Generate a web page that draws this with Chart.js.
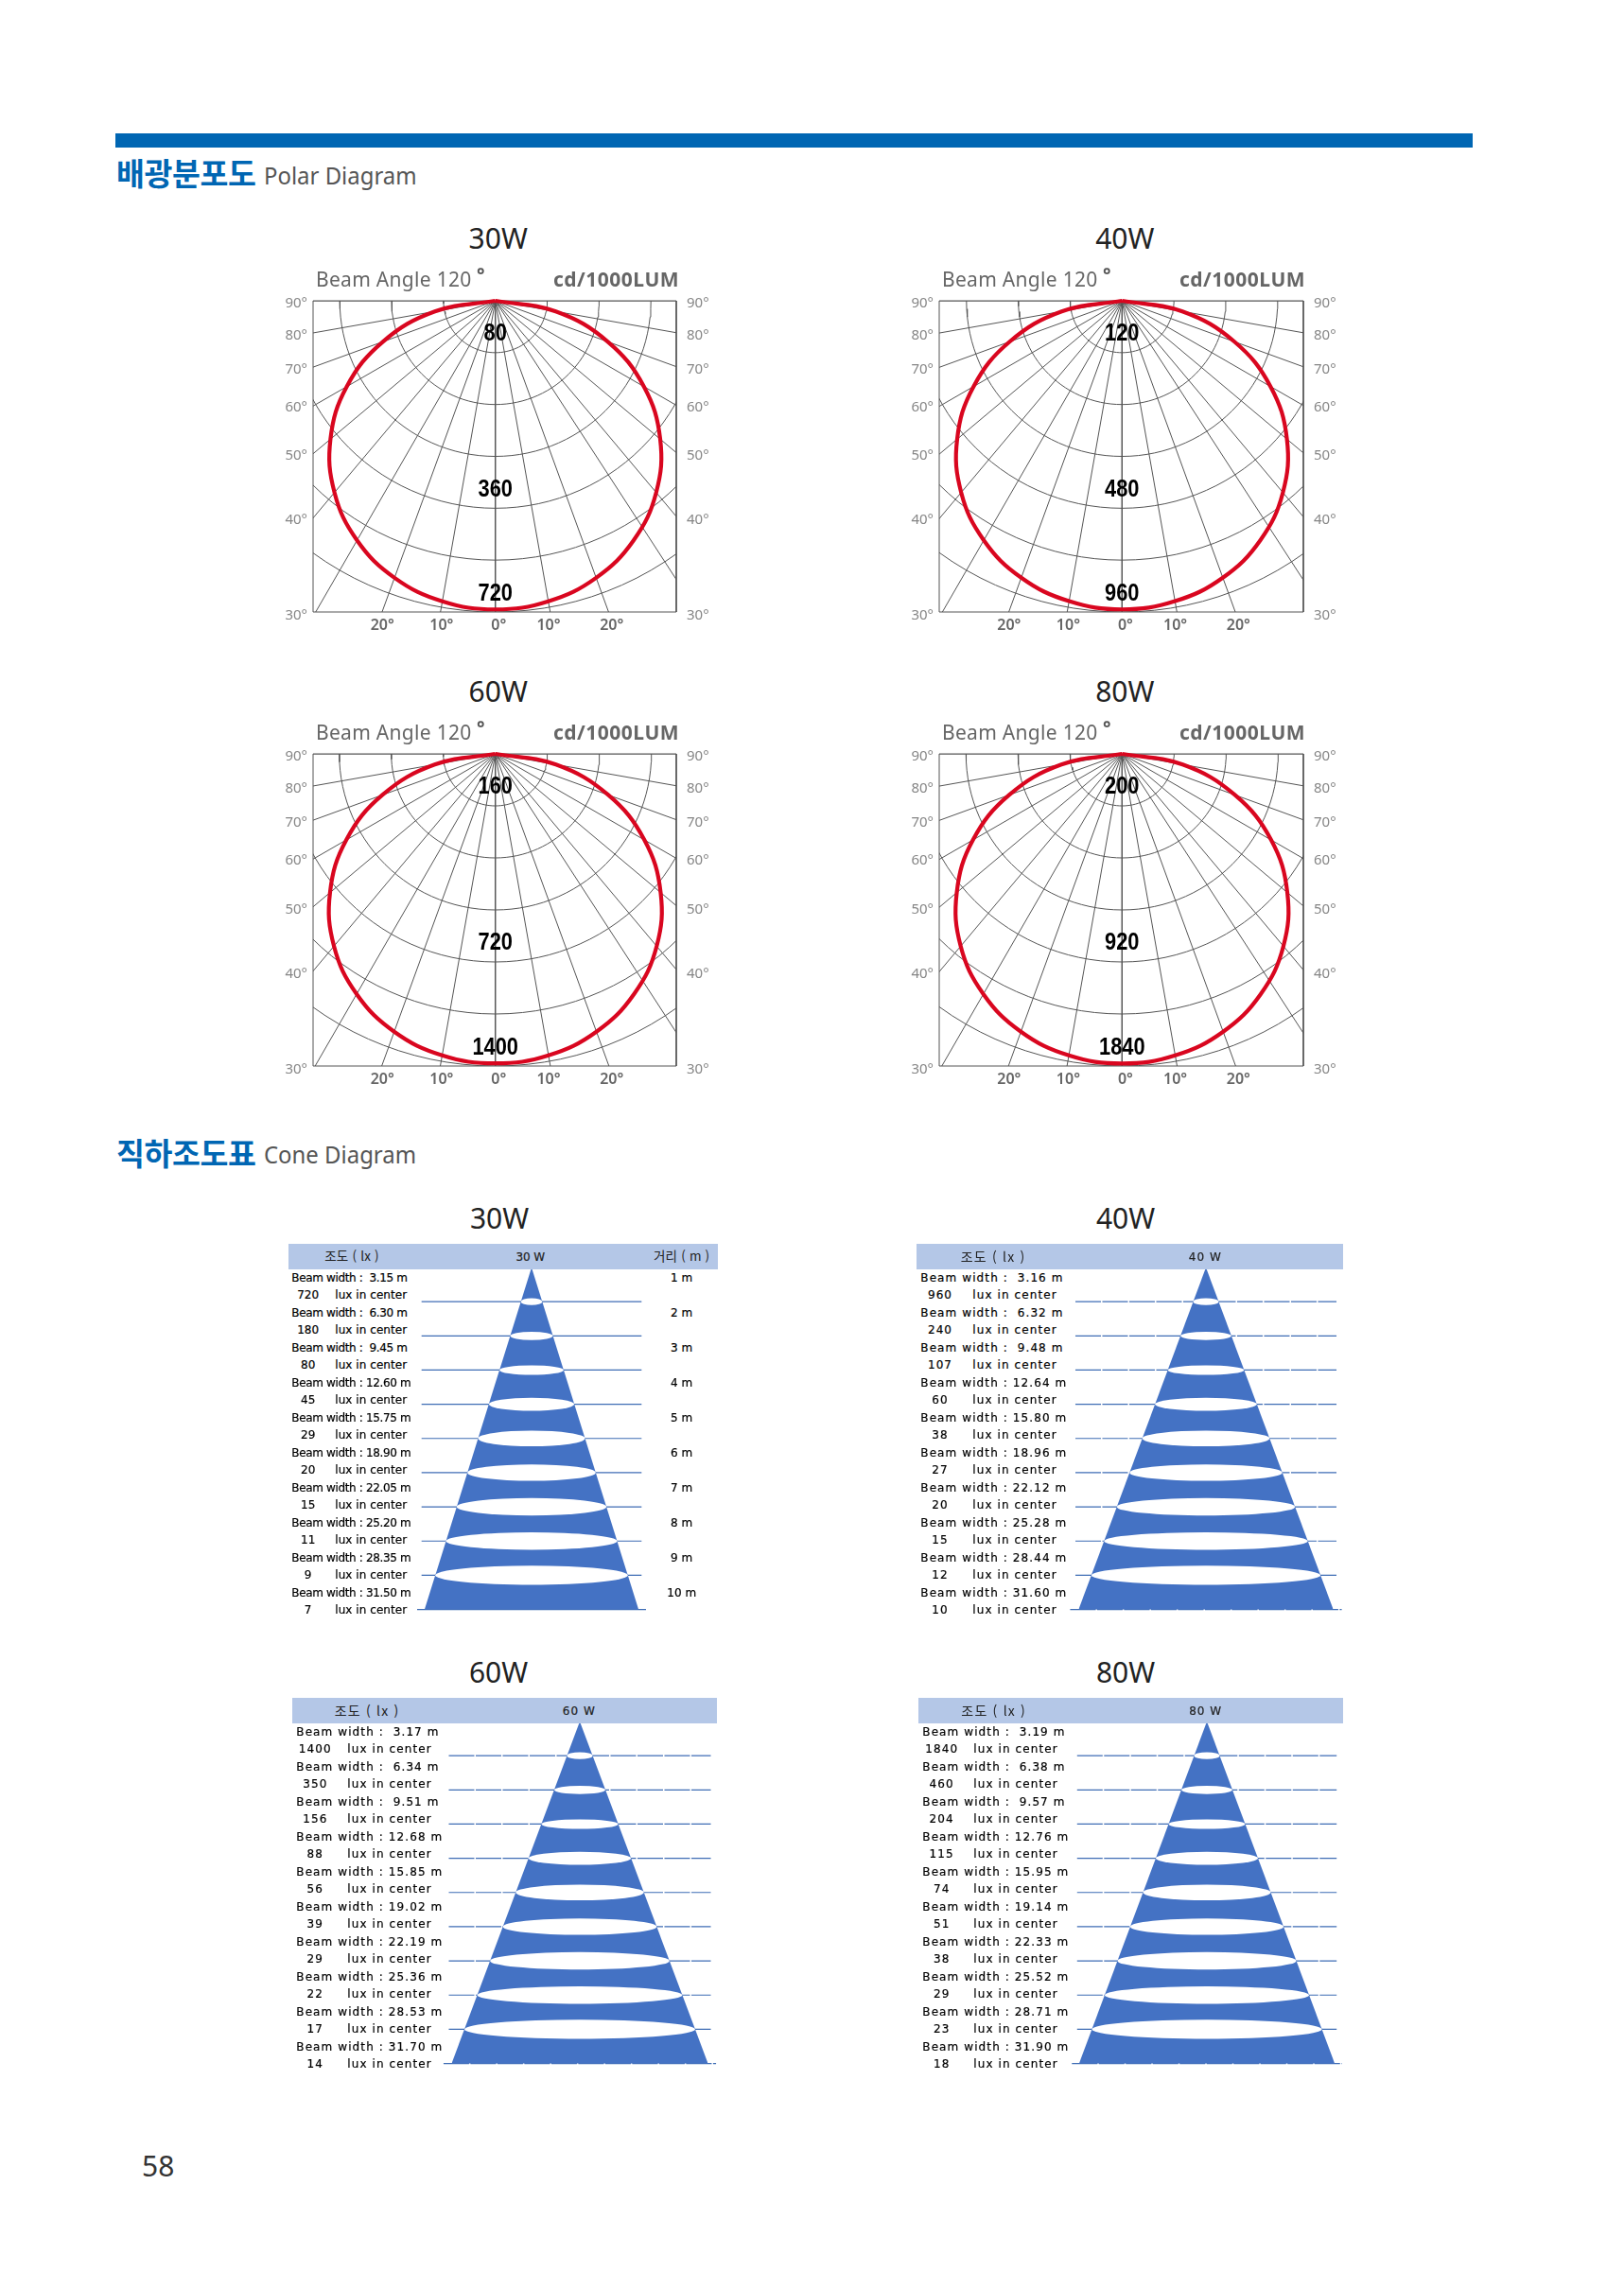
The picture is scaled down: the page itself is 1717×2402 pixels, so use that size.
<!DOCTYPE html>
<html lang="ko"><head><meta charset="utf-8"><title>Polar and Cone Diagram</title>
<script src="https://cdn.jsdelivr.net/npm/chart.js@4"></script>
<style>
html,body{margin:0;padding:0;background:#fff}
#page{position:relative;width:1717px;height:2402px;overflow:hidden;background:#fff}
canvas{position:absolute;display:block}
.t{position:absolute;white-space:pre;line-height:1;font-family:"Noto Sans","Noto Sans CJK KR",sans-serif}
.band{position:absolute}
</style></head><body><div id="page"></div>
<script>
// ---------- polar diagram data ----------
const POLAR_ANGLES=[0,10,20,30,40,50,60,70,80,90];
const CD_30W=[714,706,682,640,579,498,397,277,142,0];
const CD_40W=[952,941,909,853,772,664,529,369,189,0];
const CD_60W=[1388,1373,1326,1244,1126,968,772,539,276,0];
const CD_80W=[1825,1805,1743,1635,1480,1272,1015,708,363,0];
const POLAR_MAX=[720,960,1400,1840];
const POLAR_LABELS_30W=["80","360","720"];
const POLAR_LABELS_40W=["120","480","960"];
const POLAR_LABELS_60W=["160","720","1400"];
const POLAR_LABELS_80W=["200","920","1840"];
const SPOKES_LEFT=[10,20,30,40,50,60,70,80,90];
const SPOKES_RIGHT=[10,20,33,40,50,60,70,80,90];
const ARC_STEPS=[1,2,3,4,5,6];
const SIDE_TICKS=["90°","80°","70°","60°","50°","40°","30°"];
const BOTTOM_TICKS=["20°","10°","0°","10°","20°"];
// ---------- cone diagram data ----------
const DISTANCES=[1,2,3,4,5,6,7,8,9,10];
const WIDTH_30W=[3.15,6.30,9.45,12.60,15.75,18.90,22.05,25.20,28.35,31.50];
const WIDTH_40W=[3.16,6.32,9.48,12.64,15.80,18.96,22.12,25.28,28.44,31.60];
const WIDTH_60W=[3.17,6.34,9.51,12.68,15.85,19.02,22.19,25.36,28.53,31.70];
const WIDTH_80W=[3.19,6.38,9.57,12.76,15.95,19.14,22.33,25.52,28.71,31.90];
const LUX_30W=[720,180,80,45,29,20,15,11,9,7];
const LUX_40W=[960,240,107,60,38,27,20,15,12,10];
const LUX_60W=[1400,350,156,88,56,39,29,22,17,14];
const LUX_80W=[1840,460,204,115,74,51,38,29,23,18];
const ELLIPSE_DEPTH=[0.10,0.12,0.14,0.19,0.23,0.24,0.255,0.255,0.28];

const page=document.getElementById('page');
function text(s,x,y,o={}){
  const e=document.createElement('div');e.className='t';e.textContent=s;
  const a=o.align==='center'?'-50%':'0';
  e.style.left=x+'px';e.style.top=y+'px';
  e.style.transform=`translate(${a},-50%)`+(o.sx?` scaleX(${o.sx})`:'');
  e.style.transformOrigin='left center';
  e.style.fontSize=(o.size||12)+'px';e.style.color=o.color||'#222';
  if(o.weight)e.style.fontWeight=o.weight;
  if(o.family)e.style.fontFamily=o.family;
  if(o.ls!==undefined)e.style.letterSpacing=o.ls+'px';
  if(o.stroke)e.style.webkitTextStroke=o.stroke+'px '+(o.color||'#222');
  e.style.zIndex=5;page.appendChild(e);return e;
}
function rect(x,y,w,h,c,z){const e=document.createElement('div');e.className='band';
  e.style.cssText+=`left:${x}px;top:${y}px;width:${w}px;height:${h}px;background:${c};z-index:${z||3}`;page.appendChild(e);}
function canvasAt(x,y,w,h){const c=document.createElement('canvas');c.width=w;c.height=h;
  c.style.left=x+'px';c.style.top=y+'px';c.style.width=w+'px';c.style.height=h+'px';page.appendChild(c);return c;}

Chart.defaults.animation=false;Chart.defaults.font.family='"Noto Sans",sans-serif';
const noPad=s=>{s.paddingTop=0;s.paddingBottom=0;s.paddingLeft=0;s.paddingRight=0;};

// page furniture
rect(122,141,1435,15,'#0066B3');
const KO='"Noto Sans CJK KR",sans-serif';
const DV='"DejaVu Sans",sans-serif';
text('배광분포도',123,182,{size:32.5,weight:700,color:'#0066B3',family:KO,ls:-0.4});
text('Polar Diagram',279,184.5,{size:26,color:'#555',sx:.92});
text('직하조도표',123,1218,{size:32.5,weight:700,color:'#0066B3',family:KO,ls:-0.4});
text('Cone Diagram',279,1220,{size:26,color:'#555',sx:.92});
text('58',150,2290,{size:30,color:'#333'});

// ---------- polar panels ----------
const SIDE_POS=[.008,.111,.221,.343,.498,.704,1.010];
const BOTTOM_POS=[-.363,-.173,.011,.171,.374];
const LABEL_POS=[.1055,.607,.941];
const RAD=Math.PI/180;
function polarPt(deg,r){return {x:r*Math.sin(deg*RAD),y:r*Math.cos(deg*RAD)};}
function polarPanel(title,values,max,labels,box){
  const {l,r,t,b,cx}=box,pad={l:60,r:60,t:30,b:30},h=b-t;
  const xMin=-(cx-l)/h*max,xMax=(r-cx)/h*max;
  text(title,cx+3,t-66,{size:30,align:'center',color:'#222'});
  text('Beam Angle 120',l+3,t-23,{size:21,color:'#666',ls:.3});
  text('°',l+173,t-27,{size:20,color:'#555',weight:700});
  text('cd/1000LUM',l+254,t-23,{size:21,weight:700,color:'#666',ls:.5});
  const gray='#555555',sets=[];
  const curve=[...POLAR_ANGLES.slice().reverse().map((a,i,arr)=>polarPt(-a,values[arr.length-1-i])),
               ...POLAR_ANGLES.slice(1).map((a,i)=>polarPt(a,values[i+1]))];
  sets.push({label:title+' intensity',data:curve,showLine:true,borderColor:'#D9061F',borderWidth:4.2,tension:.4,pointRadius:0,clip:false});
  sets.push({label:'frame',data:[{x:xMin,y:0},{x:xMax,y:0},{x:xMax,y:max},{x:xMin,y:max},{x:xMin,y:0}],showLine:true,borderColor:gray,borderWidth:1,pointRadius:0,clip:false});
  const line=(label,data)=>sets.push({label,data,showLine:true,borderColor:gray,borderWidth:1,pointRadius:0});
  line('0°',[polarPt(0,0),polarPt(0,max)]);
  SPOKES_LEFT.forEach(a=>line('-'+a+'°',[polarPt(0,0),polarPt(-a,max*2)]));
  SPOKES_RIGHT.forEach(a=>line(a+'°',[polarPt(0,0),polarPt(a,max*2)]));
  ARC_STEPS.forEach(k=>{const d=[];for(let a=-90;a<=90;a+=3)d.push(polarPt(a,k*max/6));line('arc '+k,d);});
  const sideAxis=(pos,padding)=>({type:'linear',position:pos,reverse:true,min:0,max,
    afterBuildTicks:s=>{s.ticks=SIDE_POS.map(f=>({value:f*max}));},
    afterFit:s=>{s.width=pos==='left'?pad.l:pad.r;noPad(s);},
    grid:{display:false,drawTicks:false},border:{display:false},
    ticks:{autoSkip:false,maxRotation:0,padding,color:'#868686',font:{size:15},callback:(v,i)=>SIDE_TICKS[i]}});
  new Chart(canvasAt(l-pad.l,t-pad.t,r-l+pad.l+pad.r,h+pad.t+pad.b),{type:'scatter',data:{datasets:sets},
    options:{responsive:false,devicePixelRatio:1,events:[],
      layout:{autoPadding:false,padding:{top:pad.t}},
      plugins:{legend:{display:false},tooltip:{enabled:false},title:{display:false}},
      scales:{
        x:{type:'linear',position:'bottom',min:xMin,max:xMax,
          afterBuildTicks:s=>{s.ticks=BOTTOM_POS.map(f=>({value:f*max*329/h}));},
          afterFit:s=>{s.height=pad.b;noPad(s);},
          grid:{display:false,drawTicks:false},border:{display:false},
          ticks:{autoSkip:false,maxRotation:0,padding:5,color:'#666',font:{size:16,weight:'600'},callback:(v,i)=>BOTTOM_TICKS[i]}},
        y:sideAxis('left',6),y1:sideAxis('right',11)}},
    plugins:[{id:'valueLabels',afterDatasetsDraw(c){
      const g=c.ctx;
      labels.forEach((s,i)=>{g.save();g.fillStyle='#000';g.textAlign='center';g.textBaseline='middle';
        g.font='700 26px "Liberation Sans",sans-serif';
        g.translate(c.scales.x.getPixelForValue(0),c.scales.y.getPixelForValue(LABEL_POS[i]*max));
        g.scale(.84,1);g.fillText(s,0,0);g.restore();});
      }}]});
}
const LX=[331,715,523.7],RX=[993,1378,1186.3];
polarPanel('30W',CD_30W,POLAR_MAX[0],POLAR_LABELS_30W,{l:LX[0],r:LX[1],cx:LX[2],t:318,b:647});
polarPanel('40W',CD_40W,POLAR_MAX[1],POLAR_LABELS_40W,{l:RX[0],r:RX[1],cx:RX[2],t:318,b:647});
polarPanel('60W',CD_60W,POLAR_MAX[2],POLAR_LABELS_60W,{l:LX[0],r:LX[1],cx:LX[2],t:797,b:1127});
polarPanel('80W',CD_80W,POLAR_MAX[3],POLAR_LABELS_80W,{l:RX[0],r:RX[1],cx:RX[2],t:797,b:1127});

// ---------- cone panels ----------
const PX_PER_DIST=36.11;
function conePanel(title,widths,lux,g){
  const hw=g.halfSpan,halfM=hw/g.pxPerM,hTop=g.headTop,d0=hTop+25;
  const wide=g.ls>0.8,row={size:12,family:DV,color:'#000',stroke:.2};
  text(title,g.titleX,hTop-27,{size:30,align:'center',color:'#222'});
  rect(g.headL,hTop,g.headR-g.headL,26.7,'#B4C7E7',6);
  text('조도 ( lx )',g.koX,hTop+13,{size:wide?14:13.5,align:'center',color:'#222',family:KO,ls:wide?1.2:.2}).style.zIndex=7;
  text(title.replace('W',' W'),g.apexX-1,hTop+13.5,{size:12,align:'center',color:'#222',family:DV,stroke:.2,ls:wide?1:-.1}).style.zIndex=7;
  if(g.right)text('거리 ( m )',g.right,hTop+13,{size:13.5,align:'center',color:'#222',family:KO,ls:.2}).style.zIndex=7;
  DISTANCES.forEach((d,i)=>{
    const y1=hTop+35.7+37*i,y2=hTop+54+37*i,gap=widths[i]<10?'  ':' ';
    text(`Beam width :${gap}${widths[i].toFixed(2)} m`,g.textX,y1,{...row,ls:g.beamLs});
    text(String(lux[i]),g.numX,y2,{...row,align:'center',ls:g.ls});
    text('lux in center',g.luxX,y2,{...row,ls:g.ls});
    if(g.right)text(d+' m',g.right,y1,{...row,align:'center'});
  });
  const sets=[];
  sets.push({label:'beam edge',data:DISTANCES.slice(0,9).map((d,i)=>({x:widths[i]/2,y:d})),showLine:false,pointRadius:0});
  const last=widths[widths.length-1]/2;
  sets.push({label:title+' cone',data:[{x:-last,y:10},{x:0,y:0},{x:last,y:10}],showLine:true,borderWidth:0,pointRadius:0,
    backgroundColor:'#4472C4',fill:{value:10}});
  DISTANCES.forEach(d=>{const e=d===10?16.85:16.2;
    sets.push({label:d+' m',data:[{x:-e,y:d},{x:e,y:d}],showLine:true,borderColor:'#3F6DB5',borderWidth:1.2,pointRadius:0,borderDash:g.dash||[]});});
  new Chart(canvasAt(Math.round(g.apexX-hw),d0,hw*2,Math.ceil(10.4*PX_PER_DIST)),{type:'scatter',data:{datasets:sets},
    options:{responsive:false,devicePixelRatio:1,events:[],layout:{autoPadding:false},
      plugins:{legend:{display:false},tooltip:{enabled:false}},
      scales:{x:{type:'linear',display:false,min:-halfM,max:halfM},y:{type:'linear',display:false,reverse:true,min:0,max:10.4}}},
    plugins:[{id:'beamEllipses',afterDatasetsDraw(c){
      const m=c.getDatasetMeta(0),sx=c.scales.x,sy=c.scales.y,ctx=c.ctx,cx=sx.getPixelForValue(0);
      ctx.save();ctx.fillStyle='#fff';
      m.data.forEach((pt,i)=>{const ry=Math.abs(sy.getPixelForValue(DISTANCES[i]+ELLIPSE_DEPTH[i])-pt.y);
        ctx.beginPath();ctx.ellipse(cx,pt.y,pt.x-cx,ry,0,0,Math.PI*2);ctx.fill();});
      ctx.restore();}}]});
}
conePanel('30W',WIDTH_30W,LUX_30W,{titleX:528,apexX:561.7,pxPerM:7.18,halfSpan:130,headTop:1315,headL:305,headR:759,koX:372,right:720.7,textX:308.3,numX:325.7,luxX:354.3,ls:.05,beamLs:-.35});
conePanel('40W',WIDTH_40W,LUX_40W,{titleX:1190,apexX:1275.3,pxPerM:8.52,halfSpan:150,headTop:1315,headL:969,headR:1420,koX:1050,textX:973.3,numX:994,luxX:1028.3,ls:1.1,beamLs:1.1,dash:[27,1.5]});
conePanel('60W',WIDTH_60W,LUX_60W,{titleX:527,apexX:613.3,pxPerM:8.55,halfSpan:150,headTop:1795,headL:309,headR:757.7,koX:388,textX:313.3,numX:333.3,luxX:367.3,ls:1.1,beamLs:1.1,dash:[27,1.5]});
conePanel('80W',WIDTH_80W,LUX_80W,{titleX:1190,apexX:1275.7,pxPerM:8.47,halfSpan:150,headTop:1795,headL:971,headR:1420,koX:1050.7,textX:975.3,numX:995.7,luxX:1029.3,ls:1.1,beamLs:1.1,dash:[27,1.5]});
</script></body></html>
